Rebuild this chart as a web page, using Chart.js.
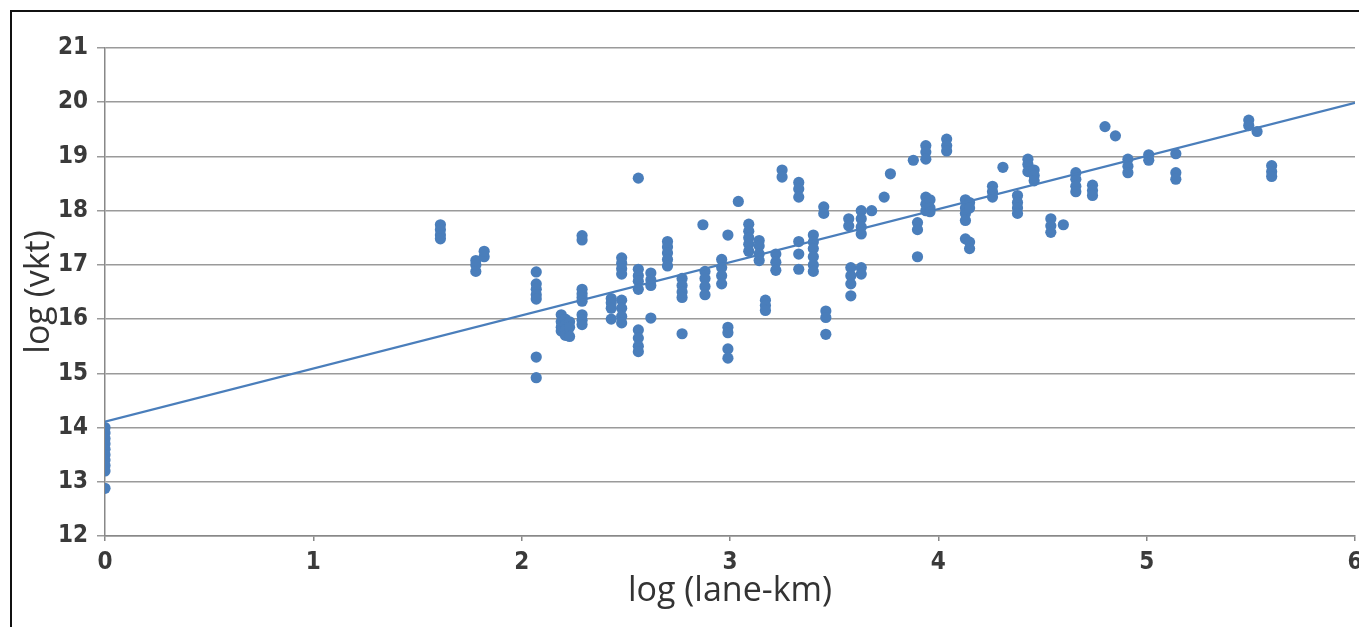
<!DOCTYPE html>
<html lang="en">
<head>
    <meta charset="UTF-8">
    <title>log (vkt) vs log (lane-km)</title>
    <script src="https://cdn.jsdelivr.net/npm/chart.js"></script>
    <style>
        html, body {
            margin: 0;
            padding: 0;
            background: #fff;
            overflow: hidden;
            width: 1359px;
            height: 627px;
        }

        .frame {
            position: absolute;
            left: 10px;
            top: 10px;
            width: 1400px;
            height: 700px;
            border: 2px solid #111;
            pointer-events: none;
        }

        .chart-wrapper {
            position: absolute;
            left: 0;
            top: 0;
            width: 1375px;
            height: 627px;
        }
    </style>
</head>
<body>
    <div class="chart-wrapper">
        <canvas id="chart" width="1375" height="627"></canvas>
    </div>
    <div class="frame"></div>
    <script>
        // log (lane-km) per observation
        const laneKm = [
            0, 0, 0, 0, 0, 0, 0, 0, 0, 0,
            1.61, 1.61, 1.61, 1.61,
            1.78, 1.78, 1.78, 1.82, 1.82,
            2.07, 2.07, 2.07, 2.07, 2.07, 2.07, 2.07,
            2.19, 2.19, 2.19, 2.19, 2.21, 2.21, 2.21, 2.21, 2.23, 2.23, 2.23,
            2.29, 2.29, 2.29, 2.29, 2.29, 2.29, 2.29, 2.29, 2.29,
            2.43, 2.43, 2.43, 2.43,
            2.48, 2.48, 2.48, 2.48, 2.48, 2.48, 2.48, 2.48,
            2.56, 2.56, 2.56, 2.56, 2.56, 2.56, 2.56, 2.56, 2.56,
            2.62, 2.62, 2.62, 2.62,
            2.70, 2.70, 2.70, 2.70, 2.70,
            2.77, 2.77, 2.77, 2.77, 2.77,
            2.87,
            2.88, 2.88, 2.88, 2.88,
            2.96, 2.96, 2.96, 2.96,
            2.99, 2.99, 2.99, 2.99, 2.99,
            3.04,
            3.09, 3.09, 3.09, 3.09, 3.09,
            3.14, 3.14, 3.14, 3.14,
            3.17, 3.17, 3.17,
            3.22, 3.22, 3.22,
            3.25, 3.25,
            3.33, 3.33, 3.33, 3.33, 3.33, 3.33,
            3.40, 3.40, 3.40, 3.40, 3.40, 3.40,
            3.45, 3.45,
            3.46, 3.46, 3.46,
            3.57, 3.57,
            3.58, 3.58, 3.58, 3.58,
            3.63, 3.63, 3.63, 3.63, 3.63, 3.63,
            3.68, 3.74, 3.77, 3.88,
            3.90, 3.90, 3.90,
            3.94, 3.94, 3.94, 3.94, 3.94, 3.94,
            3.96, 3.96, 3.96,
            4.04, 4.04, 4.04,
            4.13, 4.13, 4.13, 4.13,
            4.15, 4.15,
            4.13, 4.15, 4.15,
            4.26, 4.26, 4.26,
            4.31,
            4.38, 4.38, 4.38, 4.38,
            4.43, 4.43, 4.43,
            4.46, 4.46, 4.46,
            4.54, 4.54, 4.54,
            4.60,
            4.66, 4.66, 4.66, 4.66,
            4.74, 4.74, 4.74,
            4.80, 4.85,
            4.91, 4.91, 4.91,
            5.01, 5.01,
            5.14, 5.14, 5.14,
            5.49, 5.49, 5.53,
            5.60, 5.60, 5.60
        ];

        // log (vkt) per observation, same order as laneKm
        const vkt = [
            14.0, 13.9, 13.8, 13.7, 13.6, 13.5, 13.4, 13.3, 13.2, 12.88,
            17.74, 17.65, 17.55, 17.48,
            16.88, 17.0, 17.08, 17.15, 17.25,
            16.87, 16.65, 16.55, 16.45, 16.37, 15.3, 14.92,
            16.08, 15.95, 15.85, 15.78, 16.0, 15.9, 15.8, 15.7, 15.95, 15.85, 15.68,
            17.54, 17.46, 16.55, 16.47, 16.4, 16.33, 16.08, 15.98, 15.9,
            16.38, 16.3, 16.2, 16.0,
            17.13, 17.03, 16.93, 16.83, 16.35, 16.2, 16.05, 15.93,
            18.6, 16.92, 16.8, 16.7, 16.55, 15.8, 15.65, 15.5, 15.4,
            16.85, 16.72, 16.62, 16.02,
            17.43, 17.33, 17.22, 17.1, 16.98,
            16.75, 16.62, 16.5, 16.4, 15.73,
            17.74,
            16.88, 16.75, 16.6, 16.45,
            17.1, 16.95, 16.8, 16.65,
            17.55, 15.85, 15.75, 15.45, 15.28,
            18.17,
            17.75, 17.62, 17.5, 17.38, 17.25,
            17.45, 17.35, 17.2, 17.08,
            16.35, 16.25, 16.16,
            17.2, 17.05, 16.9,
            18.75, 18.62,
            18.52, 18.4, 18.25, 17.43, 17.2, 16.92,
            17.55, 17.42, 17.3, 17.15, 17.0, 16.88,
            18.07, 17.95,
            16.15, 16.03, 15.72,
            17.85, 17.72,
            16.95, 16.8, 16.65, 16.43,
            18.0, 17.85, 17.7, 17.57, 16.95, 16.83,
            18.0, 18.25, 18.68, 18.93,
            17.78, 17.65, 17.15,
            19.2, 19.08, 18.95, 18.25, 18.12, 18.0,
            18.2, 18.05, 17.98,
            19.32, 19.2, 19.1,
            18.2, 18.05, 17.95, 17.82,
            18.15, 18.05,
            17.48, 17.42, 17.3,
            18.45, 18.35, 18.25,
            18.8,
            18.28, 18.15, 18.05, 17.95,
            18.95, 18.85, 18.72,
            18.75, 18.65, 18.55,
            17.85, 17.72, 17.6,
            17.74,
            18.7, 18.58, 18.45, 18.35,
            18.47, 18.37, 18.28,
            19.55, 19.38,
            18.95, 18.82, 18.7,
            19.03, 18.93,
            19.05, 18.7, 18.58,
            19.67, 19.57, 19.46,
            18.83, 18.72, 18.63
        ];

        // fitted trend line end points
        const trendX = [0, 6];
        const trendY = [14.11, 19.99];

        const xTicks = [0, 1, 2, 3, 4, 5, 6];
        const yTicks = [12, 13, 14, 15, 16, 17, 18, 19, 20, 21];

        const blue = '#4a7ebb';
        const gridGrey = '#9a9a9a';
        const tickFont = { family: "'Liberation Sans Narrow', 'DejaVu Sans Condensed', sans-serif", size: 24, weight: 'bold' };
        const titleFont = { family: "'Open Sans', sans-serif", size: 34 };

        const points = laneKm.map((x, i) => ({ x: x, y: vkt[i] }));
        const trend = trendX.map((x, i) => ({ x: x, y: trendY[i] }));

        new Chart(document.getElementById('chart').getContext('2d'), {
            type: 'scatter',
            data: {
                datasets: [
                    {
                        type: 'line',
                        label: 'Trend',
                        data: trend,
                        borderColor: blue,
                        borderWidth: 2.2,
                        pointRadius: 0,
                        fill: false
                    },
                    {
                        label: 'log (vkt)',
                        data: points,
                        backgroundColor: blue,
                        borderColor: blue,
                        borderWidth: 0,
                        pointRadius: 5.6
                    }
                ]
            },
            options: {
                responsive: false,
                animation: false,
                layout: {
                    padding: { left: 0, top: 48, right: 20, bottom: 0 }
                },
                scales: {
                    x: {
                        type: 'linear',
                        min: 0,
                        max: 6,
                        afterBuildTicks: scale => {
                            scale.ticks = xTicks.map(v => ({ value: v }));
                        },
                        afterFit: scale => {
                            scale.height = 91;
                        },
                        ticks: {
                            color: '#3a3a3a',
                            font: tickFont,
                            padding: 7,
                            maxRotation: 0
                        },
                        grid: {
                            drawOnChartArea: false,
                            drawTicks: true,
                            tickLength: 5,
                            color: '#888',
                            lineWidth: 1.5
                        },
                        border: {
                            color: '#888',
                            width: 1.5
                        },
                        title: {
                            display: true,
                            text: 'log (lane-km)',
                            color: '#333',
                            font: titleFont,
                            padding: { top: 0, bottom: 15 }
                        }
                    },
                    y: {
                        type: 'linear',
                        min: 12,
                        max: 21,
                        afterBuildTicks: scale => {
                            scale.ticks = yTicks.map(v => ({ value: v }));
                        },
                        afterFit: scale => {
                            scale.width = 105;
                        },
                        ticks: {
                            color: '#3a3a3a',
                            font: tickFont,
                            padding: 9
                        },
                        grid: {
                            color: gridGrey,
                            lineWidth: 1.5,
                            tickLength: 8
                        },
                        border: {
                            color: '#888',
                            width: 1.5
                        },
                        title: {
                            display: true,
                            text: 'log (vkt)',
                            color: '#333',
                            font: titleFont,
                            padding: { top: 19, bottom: 0 }
                        }
                    }
                },
                plugins: {
                    legend: { display: false },
                    tooltip: { enabled: false }
                }
            }
        });
    </script>
</body>
</html>
